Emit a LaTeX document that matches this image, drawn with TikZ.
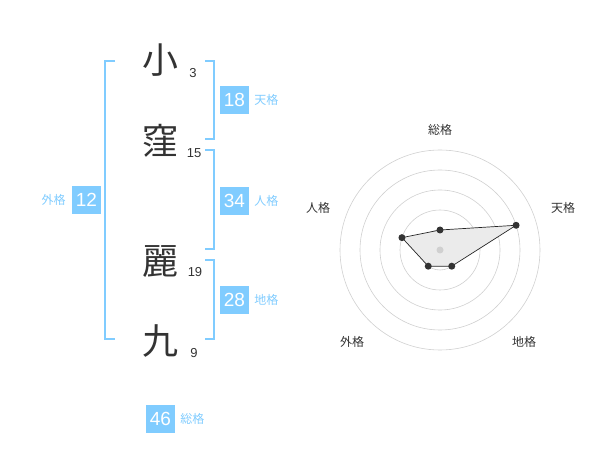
\documentclass[tikz,border=0pt]{standalone}
\usepackage{fontspec}
\setmainfont{Noto Sans CJK JP}
\newfontfamily\numfont{Liberation Sans}
\usetikzlibrary{positioning}
\definecolor{kakuBlue}{HTML}{80CCFF}
\definecolor{kanjiGray}{HTML}{333333}
\definecolor{ringGray}{HTML}{D0D0D0}
\tikzset{
    name char/.style={font=\fontsize{36}{36}\selectfont, text=kanjiGray, inner sep=0pt},
    name stroke/.style={font=\numfont\fontsize{13}{13}\selectfont, text=kanjiGray, inner sep=0pt},
    kaku box/.style={
        fill=kakuBlue,
        minimum width=29pt,
        minimum height=28pt,
        inner sep=0pt,
        text=white,
        font=\numfont\fontsize{19}{19}\selectfont
    },
    kaku label/.style={font=\fontsize{12}{12}\selectfont, text=kakuBlue, inner sep=0pt},
    kaku bracket/.style={draw=kakuBlue, line width=1.6pt},
    radar ring/.style={draw=ringGray, line width=0.6pt},
    radar label/.style={font=\fontsize{12}{12}\selectfont, text=kanjiGray, inner sep=0pt},
    radar area/.style={fill=black!8, draw=black!85, line width=0.7pt},
    radar dot/.style={circle, fill=black!80, inner sep=0pt, minimum size=7pt}
}
\begin{document}
\begin{tikzpicture}[x=1pt, y=-1pt]
\useasboundingbox (0,0) rectangle (600,470);
% name characters
\node[name char] (c1) at (160,60) {小};
\node[name char] (c2) at (160,141) {窪};
\node[name char] (c3) at (160,262) {麗};
\node[name char] (c4) at (160,341) {九};
\node[name stroke] (s1) at (193,73) {3};
\node[name stroke] (s2) at (194,153) {15};
\node[name stroke] (s3) at (195,272) {19};
\node[name stroke] (s4) at (194,353) {9};

% brackets
\coordinate (lt) at (115,61);
\coordinate (lb) at (115,339);
\draw[kaku bracket] (lt) -- ++(-10,0) |- (lb);
\coordinate (t1) at (205,61);
\coordinate (t2) at (205,139);
\draw[kaku bracket] (t1) -- ++(9,0) |- (t2);
\coordinate (j1) at (205,150);
\coordinate (j2) at (205,249);
\draw[kaku bracket] (j1) -- ++(9,0) |- (j2);
\coordinate (d1) at (205,260);
\coordinate (d2) at (205,339);
\draw[kaku bracket] (d1) -- ++(9,0) |- (d2);

% five grids
\node[kaku box] (ten) at (234.5,100) {18};
\node[kaku label, right=5pt of ten] (tenl) {天格};
\node[kaku box] (jin) at (234.5,201) {34};
\node[kaku label, right=5pt of jin] (jinl) {人格};
\node[kaku box] (chi) at (234.5,300) {28};
\node[kaku label, right=5pt of chi] (chil) {地格};
\node[kaku box] (gai) at (86.5,200) {12};
\node[kaku label, left=6pt of gai] (gail) {外格};
\node[kaku box] (sou) at (160.5,419) {46};
\node[kaku label, right=5pt of sou] (soul) {総格};

% radar chart
\begin{scope}[shift={(440,250)}, y=1pt]
\foreach \r in {20,40,...,100}
    \draw[radar ring] (0,0) circle[radius=\r];
\coordinate (rsou) at (90:20);
\coordinate (rten) at (18:80);
\coordinate (rchi) at (-54:20);
\coordinate (rgai) at (-126:20);
\coordinate (rjin) at (162:40);
\draw[radar area] (rsou) -- (rten) -- (rchi) -- (rgai) -- (rjin) -- cycle;
\fill[ringGray] (0,0) circle[radius=3.5];
\foreach \p in {rsou,rten,rchi,rgai,rjin}
    \node[radar dot] at (\p) {};
\end{scope}
\node[radar label] (lsou) at (440,130) {総格};
\node[radar label] (lten) at (563,208) {天格};
\node[radar label] (ljin) at (318,208) {人格};
\node[radar label] (lgai) at (352,342) {外格};
\node[radar label] (lchi) at (524,342) {地格};
\end{tikzpicture}
\end{document}
